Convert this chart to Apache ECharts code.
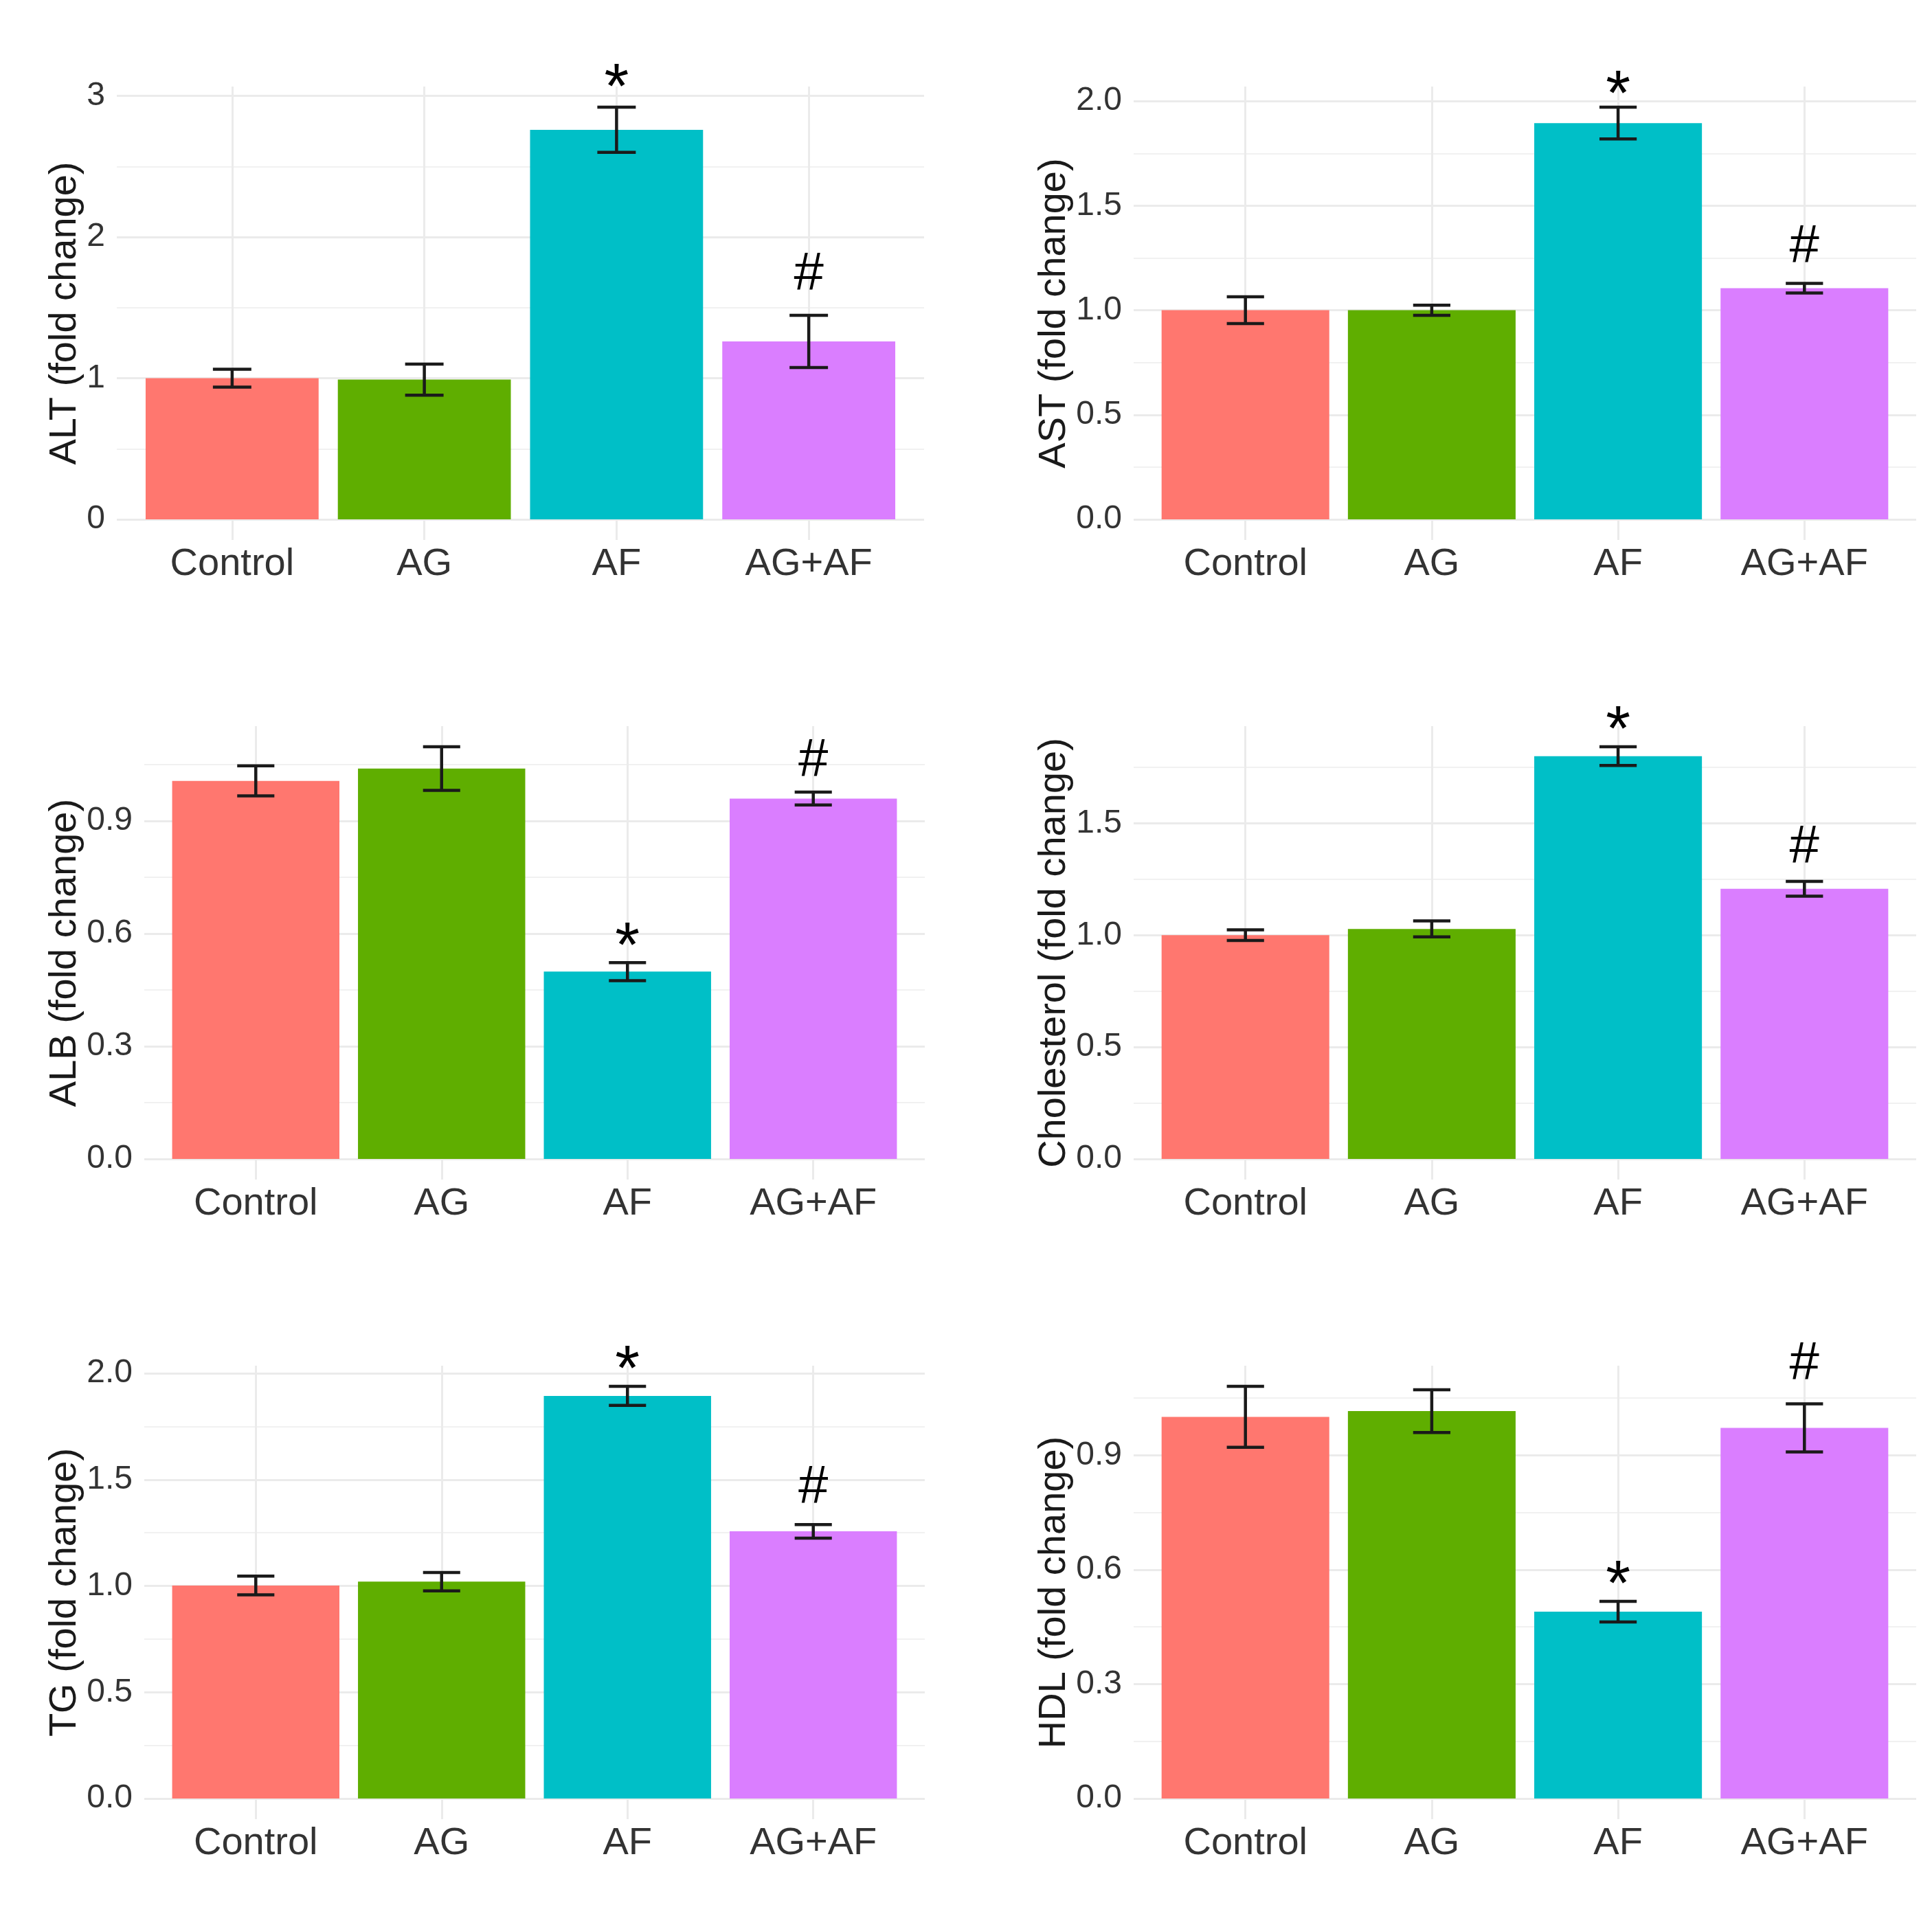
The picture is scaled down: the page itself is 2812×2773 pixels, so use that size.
<!DOCTYPE html>
<html>
<head>
<meta charset="utf-8">
<script src="https://cdn.jsdelivr.net/npm/echarts@6/dist/echarts.min.js"></script>
<style>
html, body { margin: 0; padding: 0; background: #fff; }
#chart { width: 2812px; height: 2773px; }
</style>
</head>
<body>
<div id="chart"></div>
<script>
// groups and marks shared by all six panels
var categories = ['Control', 'AG', 'AF', 'AG+AF'];
var barColors = ['#FF776F', '#5FAE00', '#00BFC7', '#DA7EFF'];
var marks = ['', '', '*', '#'];

// ALT
var altMean = [1.00, 0.99, 2.76, 1.26];
var altErr = [0.063, 0.11, 0.16, 0.185];
var altMarkY = [null, null, 3.146, 1.73];
var altTicks = [0, 1, 2, 3];
var altTickLabels = ['0', '1', '2', '3'];
var altMinor = [0.5, 1.5, 2.5];

// AST
var astMean = [1.00, 1.00, 1.895, 1.105];
var astErr = [0.064, 0.024, 0.076, 0.023];
var astMarkY = [null, null, 2.09, 1.30];
var astTicks = [0, 0.5, 1, 1.5, 2];
var astTickLabels = ['0.0', '0.5', '1.0', '1.5', '2.0'];
var astMinor = [0.25, 0.75, 1.25, 1.75];

// ALB
var albMean = [1.007, 1.040, 0.499, 0.960];
var albErr = [0.040, 0.058, 0.024, 0.017];
var albMarkY = [null, null, 0.60, 1.059];
var albTicks = [0, 0.3, 0.6, 0.9];
var albTickLabels = ['0.0', '0.3', '0.6', '0.9'];
var albMinor = [0.15, 0.45, 0.75, 1.05];

// Cholesterol
var cholMean = [1.00, 1.028, 1.80, 1.207];
var cholErr = [0.024, 0.036, 0.042, 0.033];
var cholMarkY = [null, null, 1.973, 1.388];
var cholTicks = [0, 0.5, 1, 1.5];
var cholTickLabels = ['0.0', '0.5', '1.0', '1.5'];
var cholMinor = [0.25, 0.75, 1.25, 1.75];

// TG
var tgMean = [1.002, 1.02, 1.894, 1.257];
var tgErr = [0.044, 0.043, 0.045, 0.032];
var tgMarkY = [null, null, 2.075, 1.459];
var tgTicks = [0, 0.5, 1, 1.5, 2];
var tgTickLabels = ['0.0', '0.5', '1.0', '1.5', '2.0'];
var tgMinor = [0.25, 0.75, 1.25, 1.75];

// HDL
var hdlMean = [1.001, 1.016, 0.49, 0.972];
var hdlErr = [0.080, 0.056, 0.027, 0.063];
var hdlMarkY = [null, null, 0.594, 1.137];
var hdlTicks = [0, 0.3, 0.6, 0.9];
var hdlTickLabels = ['0.0', '0.3', '0.6', '0.9'];
var hdlMinor = [0.15, 0.45, 0.75, 1.05];

var panels = [
    { name: 'ALT (fold change)', mean: altMean, err: altErr, markY: altMarkY, ticks: altTicks, labels: altTickLabels, minor: altMinor },
    { name: 'AST (fold change)', mean: astMean, err: astErr, markY: astMarkY, ticks: astTicks, labels: astTickLabels, minor: astMinor },
    { name: 'ALB (fold change)', mean: albMean, err: albErr, markY: albMarkY, ticks: albTicks, labels: albTickLabels, minor: albMinor },
    { name: 'Cholesterol (fold change)', mean: cholMean, err: cholErr, markY: cholMarkY, ticks: cholTicks, labels: cholTickLabels, minor: cholMinor },
    { name: 'TG (fold change)', mean: tgMean, err: tgErr, markY: tgMarkY, ticks: tgTicks, labels: tgTickLabels, minor: tgMinor },
    { name: 'HDL (fold change)', mean: hdlMean, err: hdlErr, markY: hdlMarkY, ticks: hdlTicks, labels: hdlTickLabels, minor: hdlMinor }
];

// panel boxes, in page pixels
var layouts = [
    { left: 170, right: 1467, top: 126, nameGap: 45 },
    { left: 1650, right: 23, top: 126, nameGap: 83 },
    { left: 210, right: 1466, top: 1057, nameGap: 85 },
    { left: 1650, right: 23, top: 1057, nameGap: 83 },
    { left: 210, right: 1466, top: 1988, nameGap: 85 },
    { left: 1650, right: 23, top: 1988, nameGap: 83 }
];

var FONT = '"Liberation Sans", Arial, sans-serif';
var gridColor = '#ebebeb';

function renderBar(params, api) {
    var x = api.value(0);
    var p0 = api.coord([x - 0.45, 0]);
    var p1 = api.coord([x + 0.45, api.value(1)]);
    return {
        type: 'rect',
        shape: { x: p0[0], y: p1[1], width: p1[0] - p0[0], height: p0[1] - p1[1] },
        style: { fill: barColors[params.dataIndex] }
    };
}

function renderErr(params, api) {
    var x = api.value(0);
    var lo = api.coord([x, api.value(1)]);
    var hi = api.coord([x, api.value(2)]);
    var half = api.size([0.1, 0])[0];
    var st = { stroke: '#1a1a1a', lineWidth: 4.5 };
    return {
        type: 'group',
        children: [
            { type: 'line', shape: { x1: hi[0], y1: hi[1], x2: lo[0], y2: lo[1] }, style: st },
            { type: 'line', shape: { x1: hi[0] - half, y1: hi[1], x2: hi[0] + half, y2: hi[1] }, style: st },
            { type: 'line', shape: { x1: lo[0] - half, y1: lo[1], x2: lo[0] + half, y2: lo[1] }, style: st }
        ]
    };
}

function renderMark(params, api) {
    var p = api.coord([api.value(0), api.value(1)]);
    var txt = marks[api.value(2)];
    var size = txt === '*' ? 92 : 78;
    // the asterisk ink sits high in the em box, pull it down to its centre
    var dy = txt === '*' ? size * 0.24 : 0;
    return {
        type: 'text',
        x: p[0],
        y: p[1] + dy,
        style: {
            text: txt,
            fill: '#000',
            fontSize: size,
            fontFamily: FONT,
            align: 'center',
            verticalAlign: 'middle'
        }
    };
}

var grids = [], xAxes = [], yAxes = [], series = [];

panels.forEach(function (pn, i) {
    var L = layouts[i];
    var hiVal = Math.max.apply(null, pn.mean.map(function (m, k) { return m + pn.err[k]; }));
    var yMin = -0.05 * hiVal;
    var yMax = 1.05 * hiVal;

    grids.push({ left: L.left, right: L.right, top: L.top, height: 660 });

    xAxes.push({
        gridIndex: i,
        type: 'value',
        min: 0.4,
        max: 4.6,
        axisLine: { show: false },
        axisTick: { show: false, customValues: [1, 2, 3, 4] },
        axisLabel: {
            customValues: [1, 2, 3, 4],
            formatter: function (v) { return categories[Math.round(v) - 1]; },
            fontSize: 56,
            fontFamily: FONT,
            color: '#333',
            margin: 8
        },
        splitLine: { show: true, lineStyle: { color: gridColor, width: 3 } }
    });

    yAxes.push({
        gridIndex: i,
        type: 'value',
        position: 'left',
        min: yMin,
        max: yMax,
        name: pn.name,
        nameLocation: 'middle',
        nameGap: L.nameGap,
        nameTextStyle: { fontSize: 56, fontFamily: FONT, color: '#1a1a1a' },
        axisLine: { show: false },
        axisTick: { show: false, customValues: pn.ticks },
        axisLabel: {
            customValues: pn.ticks,
            formatter: function (v) {
                for (var k = 0; k < pn.ticks.length; k++) {
                    if (Math.abs(pn.ticks[k] - v) < 1e-6) return pn.labels[k];
                }
                return '';
            },
            fontSize: 48,
            fontFamily: FONT,
            color: '#333',
            margin: 17
        },
        splitLine: { show: true, lineStyle: { color: gridColor, width: 3 } }
    });

    // second axis only carries the minor grid lines
    yAxes.push({
        gridIndex: i,
        type: 'value',
        position: 'left',
        min: yMin,
        max: yMax,
        axisLine: { show: false },
        axisTick: { show: false, customValues: pn.minor },
        axisLabel: { show: false },
        splitLine: { show: true, lineStyle: { color: '#f1f1f1', width: 2 } }
    });

    series.push({
        type: 'custom',
        xAxisIndex: i,
        yAxisIndex: i * 2,
        renderItem: renderBar,
        z: 2,
        data: pn.mean.map(function (m, k) { return [k + 1, m]; })
    });

    series.push({
        type: 'custom',
        xAxisIndex: i,
        yAxisIndex: i * 2,
        renderItem: renderErr,
        z: 3,
        data: pn.mean.map(function (m, k) { return [k + 1, m - pn.err[k], m + pn.err[k]]; })
    });

    var markData = [];
    pn.markY.forEach(function (y, k) {
        if (y != null) markData.push([k + 1, y, k]);
    });
    series.push({
        type: 'custom',
        xAxisIndex: i,
        yAxisIndex: i * 2,
        renderItem: renderMark,
        clip: false,
        z: 4,
        data: markData
    });
});

var myChart = echarts.init(document.getElementById('chart'));
var option = {
    animation: false,
    backgroundColor: '#fff',
    grid: grids,
    xAxis: xAxes,
    yAxis: yAxes,
    series: series
};
myChart.setOption(option);
</script>
</body>
</html>
